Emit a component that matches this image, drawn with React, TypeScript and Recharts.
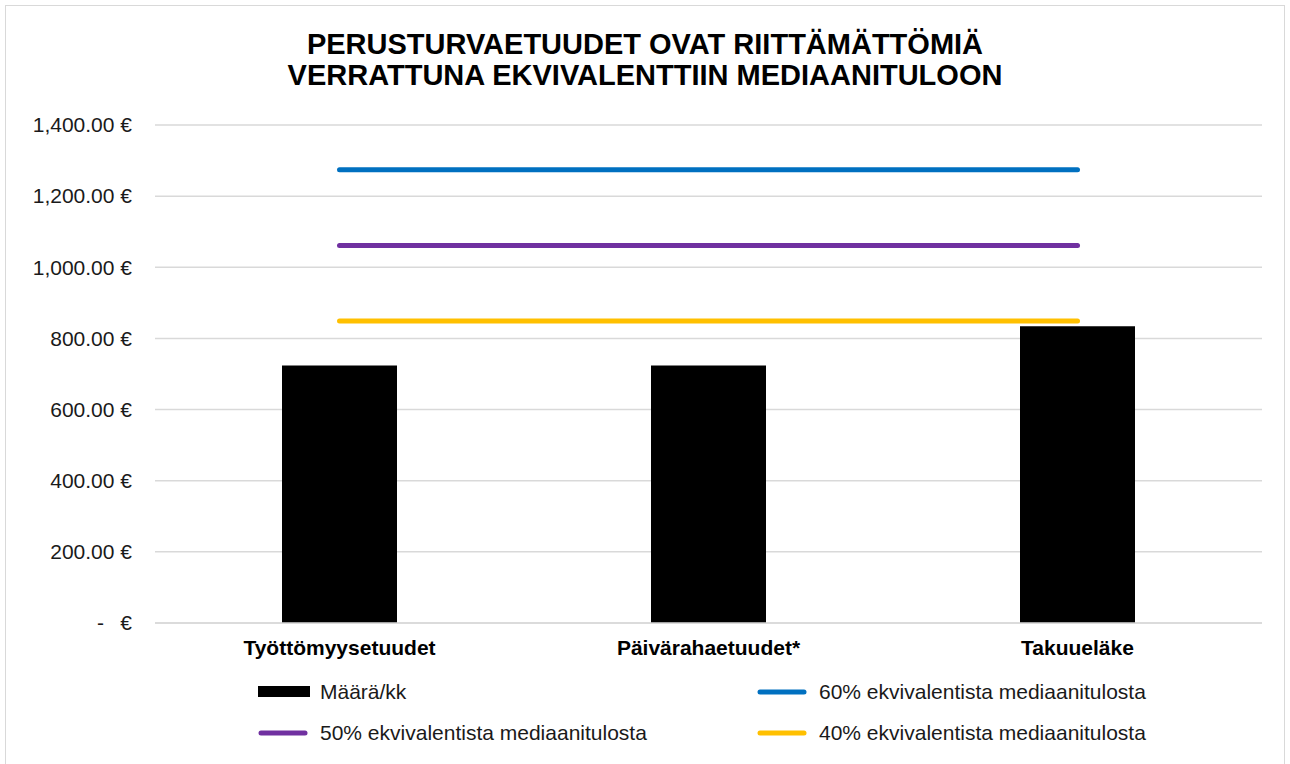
import React from "react";
import {
  ComposedChart,
  Bar,
  Line,
  XAxis,
  YAxis,
  CartesianGrid,
  Legend,
} from "recharts";

const categories = ["Työttömyysetuudet", "Päivärahaetuudet*", "Takuueläke"];
const amounts = [724, 724, 834];
const median60 = [1274, 1274, 1274];
const median50 = [1061, 1061, 1061];
const median40 = [849, 849, 849];
const yTicks = [0, 200, 400, 600, 800, 1000, 1200, 1400];
const legendOrder = [
  "Määrä/kk",
  "60% ekvivalentista mediaanitulosta",
  "50% ekvivalentista mediaanitulosta",
  "40% ekvivalentista mediaanitulosta",
];

const FONT = "'Liberation Sans', Arial, sans-serif";
const TEXT = "#1a1a1a";

const data = categories.map((name, i) => ({
  name,
  amount: amounts[i],
  m60: median60[i],
  m50: median50[i],
  m40: median40[i],
}));

const formatEuro = (n: number) =>
  n.toLocaleString("en-US", { minimumFractionDigits: 2, maximumFractionDigits: 2 }) + " €";

const YTick = (props: any) => {
  const { x, y, payload } = props;
  const common = { fontSize: 21, fontFamily: FONT, fill: TEXT };
  if (payload.value === 0) {
    return (
      <g>
        <text x={x - 35} y={y} dy="0.35em" textAnchor="start" {...common}>
          -
        </text>
        <text x={x} y={y} dy="0.35em" textAnchor="end" {...common}>
          €
        </text>
      </g>
    );
  }
  return (
    <text x={x} y={y} dy="0.35em" textAnchor="end" {...common}>
      {formatEuro(payload.value)}
    </text>
  );
};

const XTick = (props: any) => {
  const { x, y, payload } = props;
  return (
    <text
      x={x}
      y={y + 32}
      textAnchor="middle"
      fontSize={21}
      fontWeight="bold"
      fontFamily={FONT}
      fill="#000"
    >
      {payload.value}
    </text>
  );
};

const renderLegend = (props: any) => {
  const payload = [...(props.payload || [])].sort(
    (a: any, b: any) => legendOrder.indexOf(a.value) - legendOrder.indexOf(b.value)
  );
  return (
    <div style={{ position: "relative", width: 1290, height: 101 }}>
      {payload.map((entry: any, i: number) => {
        const col = i % 2;
        const row = Math.floor(i / 2);
        const left = col === 0 ? 258 : 757;
        const cy = row === 0 ? 29 : 70;
        const isBar = entry.type === "rect";
        return (
          <div
            key={entry.value}
            style={{
              position: "absolute",
              left,
              top: cy - 14,
              height: 28,
              display: "flex",
              alignItems: "center",
              whiteSpace: "nowrap",
            }}
          >
            <svg width={54} height={14} style={{ marginRight: 8 }}>
              {isBar ? (
                <rect x={0} y={1} width={52} height={11} fill={entry.color} />
              ) : (
                <line
                  x1={3}
                  y1={7}
                  x2={47}
                  y2={7}
                  stroke={entry.color}
                  strokeWidth={5}
                  strokeLinecap="round"
                />
              )}
            </svg>
            <span style={{ fontSize: 21, fontFamily: FONT, color: TEXT }}>
              {entry.value}
            </span>
          </div>
        );
      })}
    </div>
  );
};

export default function App() {
  return (
    <div
      style={{
        position: "absolute",
        left: 0,
        top: 0,
        width: 1290,
        height: 764,
        overflow: "hidden",
        background: "#fff",
      }}
    >
      <div
        style={{
          position: "absolute",
          left: 5,
          top: 5,
          width: 1280,
          height: 800,
          border: "1px solid #d9d9d9",
          boxSizing: "border-box",
        }}
      />
      <div
        style={{
          position: "absolute",
          top: 29,
          left: 0,
          width: 1290,
          textAlign: "center",
          fontFamily: FONT,
          fontWeight: "bold",
          fontSize: 29,
          lineHeight: "31px",
          color: "#000",
        }}
      >
        PERUSTURVAETUUDET OVAT RIITTÄMÄTTÖMIÄ
        <br />
        VERRATTUNA EKVIVALENTTIIN MEDIAANITULOON
      </div>
      <div style={{ position: "absolute", left: 0, top: 0 }}>
        <ComposedChart
          width={1290}
          height={764}
          data={data}
          margin={{ top: 125, right: 28, left: 0, bottom: 0 }}
        >
          <CartesianGrid vertical={false} stroke="#d9d9d9" strokeWidth={1.5} />
          <XAxis
            dataKey="name"
            height={40}
            tickSize={0}
            tickMargin={0}
            tickLine={false}
            axisLine={{ stroke: "#d9d9d9", strokeWidth: 1.5 }}
            tick={<XTick />}
            interval={0}
          />
          <YAxis
            width={155}
            domain={[0, 1400]}
            ticks={yTicks}
            tickSize={0}
            tickMargin={23}
            axisLine={false}
            tickLine={false}
            tick={<YTick />}
            interval={0}
          />
          <Legend verticalAlign="bottom" content={renderLegend} />
          <Bar
            dataKey="amount"
            name="Määrä/kk"
            fill="#000"
            barSize={115}
            isAnimationActive={false}
            legendType="rect"
          />
          <Line
            dataKey="m60"
            name="60% ekvivalentista mediaanitulosta"
            stroke="#0070c0"
            strokeWidth={5}
            strokeLinecap="round"
            dot={false}
            activeDot={false}
            type="linear"
            isAnimationActive={false}
            legendType="line"
          />
          <Line
            dataKey="m50"
            name="50% ekvivalentista mediaanitulosta"
            stroke="#7030a0"
            strokeWidth={5}
            strokeLinecap="round"
            dot={false}
            activeDot={false}
            type="linear"
            isAnimationActive={false}
            legendType="line"
          />
          <Line
            dataKey="m40"
            name="40% ekvivalentista mediaanitulosta"
            stroke="#ffc000"
            strokeWidth={5}
            strokeLinecap="round"
            dot={false}
            activeDot={false}
            type="linear"
            isAnimationActive={false}
            legendType="line"
          />
        </ComposedChart>
      </div>
    </div>
  );
}
